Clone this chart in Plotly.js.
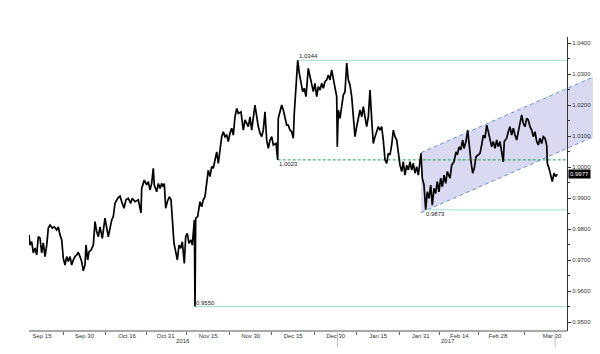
<!DOCTYPE html>
<html><head><meta charset="utf-8">
<script src="https://cdn.plot.ly/plotly-3.0.1.min.js"></script>
<style>html,body{margin:0;padding:0;background:#fff}#chart{width:600px;height:354px}</style>
</head><body><div id="chart"></div>
<script>
// x = trading days counted from Thu 15 Sep 2016 (weekends removed); y = price
const tradingDay = [
-3.36,-3.11,-2.67,-2.25,-1.81,-1.37,-0.96,-0.52,-0.08,0.34,
0.78,1.22,1.63,2.07,2.67,3.18,3.80,4.22,4.66,5.10,
5.51,5.95,6.39,6.81,7.25,7.69,8.10,8.54,8.98,9.39,
9.83,10.27,10.69,11.13,11.39,11.83,12.16,12.68,13.28,13.72,
14.16,14.57,15.01,15.61,16.30,16.74,17.16,17.60,18.04,18.45,
18.89,19.59,20.19,20.63,21.22,21.74,22.33,22.96,23.37,24.07,
24.92,25.62,25.80,26.48,27.10,27.51,27.95,28.39,28.80,29.06,
29.68,30.10,30.54,30.98,31.39,31.65,32.01,32.43,32.94,33.39,
33.72,34.16,34.60,35.02,35.46,35.90,36.31,36.83,37.19,37.60,
38.04,38.56,38.90,39.42,39.60,39.78,40.29,40.63,40.89,41.33,
41.74,42.18,42.62,43.04,43.48,43.92,44.33,44.77,45.21,45.63,
46.07,46.51,46.92,47.36,47.80,48.21,48.65,49.09,49.51,49.95,
50.39,50.80,51.50,52.10,52.54,53.39,53.83,54.27,55.12,55.56,
55.98,56.42,56.86,57.27,57.71,58.15,58.57,59.01,59.45,59.86,
60.56,61.00,61.15,61.59,62.03,62.45,62.89,63.33,63.74,64.18,
64.62,65.04,65.29,65.55,65.92,66.18,66.59,67.03,67.47,67.88,
68.32,68.92,69.36,69.80,70.21,70.65,71.09,71.51,71.95,72.39,
72.80,73.24,73.68,74.09,74.53,74.97,75.39,75.83,76.27,76.42,
76.68,77.12,77.56,77.98,78.42,78.86,79.27,79.71,80.15,80.56,
81.00,81.44,81.86,82.30,82.74,83.15,83.59,84.03,84.45,84.89,
85.33,85.74,86.18,86.62,87.03,87.47,87.91,88.33,88.77,89.21,
89.62,90.06,90.50,90.92,91.36,91.80,92.21,92.65,93.09,93.50,
93.94,94.38,94.80,95.24,95.68,96.09,96.53,96.97,97.39,98.08,
98.42,98.86,99.30,99.72,100.16,100.60,101.01,101.45,101.89,102.30,
102.74,103.18,103.60,104.04,104.48,104.89,105.59,106.03,106.63,107.14,
107.48,107.92,108.36,108.88,109.21,109.73,110.17,110.59,111.02,111.46,
111.88,112.32,112.91,113.35,113.79,114.21,114.65,115.09,115.50,115.94,
116.38,116.80,117.24,117.68,118.09,118.53,118.97,119.38,119.64,120.26,
120.68,121.12,121.56,121.97,122.41,122.85,123.27,123.71,124.15,124.56,
125.00,125.44,125.85,126.29,126.73,127.15,127.59,128.03,128.44,128.88,
129.32,129.74,130.18,130.62,130.78,131.21,131.65,132.07,132.51,132.95,133.36
];
const price = [
0.9781,0.9748,0.9759,0.9723,0.9739,0.9716,0.9775,0.9771,0.9723,0.9755,
0.9711,0.9748,0.9803,0.9813,0.9803,0.9807,0.9797,0.9807,0.9781,0.9765,
0.9706,0.9684,0.9711,0.9695,0.9711,0.9684,0.9700,0.9711,0.9716,0.9725,
0.9711,0.9695,0.9665,0.9684,0.9748,0.9700,0.9727,0.9732,0.9748,0.9824,
0.9791,0.9775,0.9807,0.9770,0.9835,0.9807,0.9775,0.9802,0.9829,0.9840,
0.9883,0.9899,0.9906,0.9888,0.9867,0.9894,0.9899,0.9883,0.9899,0.9888,
0.9894,0.9852,0.9931,0.9958,0.9942,0.9953,0.9926,0.9947,0.9996,0.9942,
0.9920,0.9947,0.9931,0.9947,0.9936,0.9947,0.9867,0.9888,0.9904,0.9894,
0.9818,0.9754,0.9727,0.9700,0.9748,0.9738,0.9759,0.9689,0.9775,0.9786,
0.9754,0.9765,0.9748,0.9829,0.9550,0.9835,0.9840,0.9861,0.9888,0.9872,
0.9894,0.9904,0.9953,0.9990,0.9969,1.0001,0.9996,1.0023,1.0049,1.0012,
1.0065,1.0098,1.0114,1.0098,1.0103,1.0082,1.0109,1.0125,1.0103,1.0162,
1.0189,1.0173,1.0178,1.0119,1.0152,1.0130,1.0162,1.0119,1.0200,1.0162,
1.0130,1.0109,1.0098,1.0119,1.0178,1.0087,1.0060,1.0087,1.0098,1.0071,
1.0076,1.0023,1.0157,1.0178,1.0200,1.0184,1.0157,1.0135,1.0135,1.0119,
1.0114,1.0093,1.0173,1.0227,1.0281,1.0344,1.0302,1.0270,1.0243,1.0254,
1.0227,1.0318,1.0291,1.0265,1.0243,1.0270,1.0227,1.0259,1.0248,1.0270,
1.0254,1.0275,1.0281,1.0297,1.0281,1.0313,1.0281,1.0254,1.0227,1.0065,
1.0184,1.0157,1.0205,1.0232,1.0243,1.0335,1.0281,1.0265,1.0227,1.0173,
1.0098,1.0130,1.0152,1.0184,1.0162,1.0195,1.0162,1.0130,1.0162,1.0248,
1.0152,1.0076,1.0098,1.0119,1.0130,1.0119,1.0130,1.0087,1.0023,1.0012,
1.0044,1.0039,1.0071,1.0119,1.0098,1.0087,1.0044,1.0006,0.9985,1.0017,
0.9974,1.0006,0.9990,1.0017,0.9990,1.0012,0.9980,1.0001,0.9974,1.0044,
0.9964,0.9942,0.9862,0.9920,0.9899,0.9942,0.9877,0.9931,0.9915,0.9953,
0.9920,0.9964,0.9936,0.9974,0.9947,0.9985,0.9964,1.0006,1.0017,1.0049,
1.0039,1.0065,1.0055,1.0087,1.0060,1.0082,1.0119,1.0060,1.0017,0.9980,
0.9996,1.0033,1.0039,1.0044,1.0071,1.0103,1.0093,1.0135,1.0114,1.0087,
1.0065,1.0082,1.0060,1.0087,1.0065,1.0082,1.0049,1.0017,1.0082,1.0093,
1.0114,1.0130,1.0103,1.0125,1.0103,1.0087,1.0114,1.0141,1.0168,1.0141,
1.0130,1.0157,1.0152,1.0130,1.0119,1.0098,1.0114,1.0082,1.0071,1.0093,
1.0076,1.0098,1.0093,1.0071,1.0012,0.9996,0.9969,0.9953,0.9980,0.9969,0.9977
];
const tickLabels = ['Sep 15','Sep 30','Oct 16','Oct 31','Nov 15','Nov 30','Dec 15','Dec 30','Jan 15','Jan 31','Feb 14','Feb 28','Mar 20'];
const tickDays   = [0, 11, 22, 32, 43, 54, 65, 76, 87, 98, 108, 118, 132];
const boundaryDays = [5.5, 16.5, 27, 37.5, 48.5, 59.5, 70.5, 81.5, 92.5, 103, 113, 125];
const yearLabels = ['2016', '2017'];
const yearDays   = [36.5, 105.1];
const yearBreakDays = [76.5, 132.8];
// horizontal levels
const levelLabels = ['1.0344', '1.0023', '0.9873', '0.9550'];
const levelValues = [1.0344, 1.0023, 0.9862, 0.9550];
const levelStartDays = [66.18, 61.0, 99.1, 39.6];
// rising channel
const channelDays  = [98.08, 142.6];
const channelUpper = [1.0046, 1.0290];
const channelLower = [0.9853, 1.0097];
const lastPriceLabel = '0.9977';

const FONT = 'Liberation Sans, Arial, sans-serif';
const X0 = -3.365, X1 = 142.6;
const yAxisPos = (567 - 29) / 564;
const axisEndDay = X0 + yAxisPos * (X1 - X0);

const trace = {
  type: 'scatter', mode: 'lines', x: tradingDay, y: price,
  line: {color: '#000', width: 1.7}, hoverinfo: 'skip'
};

const shapes = [];
shapes.push({
  type: 'path', xref: 'x', yref: 'y', layer: 'below',
  path: `M ${channelDays[0]},${channelUpper[0]} L ${channelDays[1]},${channelUpper[1]} L ${channelDays[1]},${channelLower[1]} L ${channelDays[0]},${channelLower[0]} Z`,
  fillcolor: 'rgba(165,165,222,0.42)', line: {width: 0}
});
[channelUpper, channelLower].forEach(b => shapes.push({
  type: 'line', xref: 'x', yref: 'y', layer: 'below',
  x0: channelDays[0], x1: channelDays[1], y0: b[0], y1: b[1],
  line: {color: '#6690d6', width: 1, dash: '4px,3px'}
}));
levelValues.forEach((v, i) => shapes.push({
  type: 'line', xref: 'x', yref: 'y', layer: 'below',
  x0: levelStartDays[i], x1: axisEndDay, y0: v, y1: v,
  line: i === 1 ? {color: '#22a05a', width: 1, dash: '3px,2px'} : {color: '#9fe0c6', width: 1}
}));
yearBreakDays.forEach(d => shapes.push({
  type: 'line', xref: 'x', yref: 'paper', x0: d, x1: d, y0: -0.006, y1: -0.055,
  line: {color: '#bbbbbb', width: 1}
}));
shapes.push({type: 'line', xref: 'paper', yref: 'paper', x0: 0, x1: yAxisPos, y0: 0, y1: 0,
  line: {color: '#555', width: 1}});

const annotations = [];
levelValues.forEach((v, i) => annotations.push({
  xref: 'x', yref: 'y', x: levelStartDays[i], y: v, text: levelLabels[i],
  xanchor: 'left', yanchor: (i === 0 || i === 3) ? 'bottom' : 'top',
  showarrow: false, borderpad: 0, font: {family: FONT, size: 6, color: '#222'}
}));
yearLabels.forEach((t, i) => annotations.push({
  xref: 'x', yref: 'paper', x: yearDays[i], y: -0.034, yanchor: 'middle',
  text: t, showarrow: false, font: {family: FONT, size: 6, color: '#333'}
}));
annotations.push({
  xref: 'paper', yref: 'y', x: yAxisPos, xanchor: 'left', xshift: 1,
  y: price[price.length - 1], text: lastPriceLabel, showarrow: false,
  bgcolor: '#000', borderpad: 1, font: {family: FONT, size: 6, color: '#fff'}
});

const layout = {
  width: 600, height: 354,
  margin: {l: 29, r: 7, t: 37, b: 23, pad: 0},
  paper_bgcolor: '#fff', plot_bgcolor: 'rgba(0,0,0,0)',
  showlegend: false, hovermode: false,
  xaxis: {
    range: [X0, X1], showline: false, zeroline: false, showgrid: false,
    tickmode: 'array', tickvals: tickDays, ticktext: tickLabels, ticks: '',
    tickfont: {family: FONT, size: 6, color: '#333'},
    minor: {tickmode: 'array', tickvals: boundaryDays, ticks: 'outside', ticklen: 3, tickwidth: 1, tickcolor: '#666'},
    fixedrange: true
  },
  yaxis: {
    range: [0.9471, 1.04194], anchor: 'free', position: yAxisPos, side: 'right',
    showline: true, linecolor: '#333', linewidth: 1, zeroline: false, showgrid: false,
    ticks: 'outside', ticklen: 3, tickcolor: '#333', tick0: 0.95, dtick: 0.01, tickformat: '.4f',
    tickfont: {family: FONT, size: 6, color: '#333'},
    minor: {dtick: 0.005, ticks: 'outside', ticklen: 2, tickcolor: '#333'},
    fixedrange: true
  },
  shapes: shapes, annotations: annotations
};

Plotly.newPlot('chart', [trace], layout, {staticPlot: true, displayModeBar: false});
</script></body></html>
